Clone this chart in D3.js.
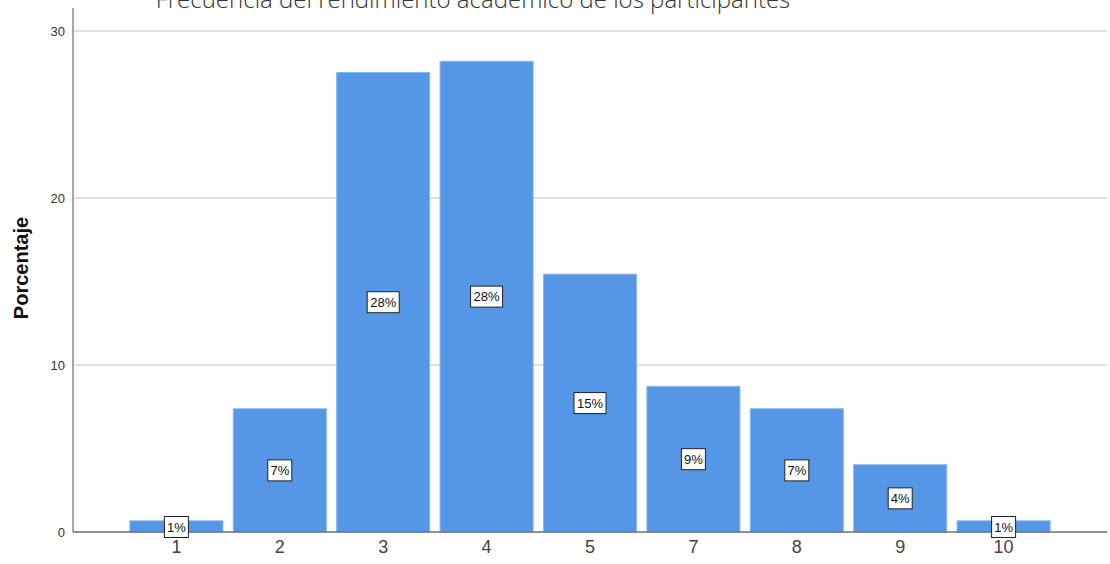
<!DOCTYPE html>
<html>
<head>
<meta charset="utf-8">
<script src="https://cdn.jsdelivr.net/npm/d3@7"></script>
<style>
  body { margin: 0; background: #fff; }
</style>
</head>
<body>
<svg></svg>
<script>
var categories = ["1", "2", "3", "4", "5", "7", "8", "9", "10"];
var percents = [0.67, 7.38, 27.52, 28.19, 15.44, 8.72, 7.38, 4.03, 0.67];
var labels = ["1%", "7%", "28%", "28%", "15%", "9%", "7%", "4%", "1%"];
var yTicks = [0, 10, 20, 30];

var svgWidth = 1110, svgHeight = 564;
var svg = d3.select("svg")
    .attr("width", svgWidth)
    .attr("height", svgHeight);

var plotLeft = 73, plotRight = 1107, plotTop = 31, plotBottom = 532;

var xScale = d3.scaleBand().domain(categories).range([plotLeft, plotRight])
    .paddingInner(0.1).paddingOuter(0.55);
var yScale = d3.scaleLinear().domain([0, 30]).range([plotBottom, plotTop]);

// gridlines
svg.append("g")
    .selectAll("line")
    .data(yTicks.filter(function (d) { return d > 0; }))
    .enter()
    .append("line")
    .attr("x1", plotLeft).attr("x2", plotRight)
    .attr("y1", function (d) { return yScale(d); })
    .attr("y2", function (d) { return yScale(d); })
    .style("stroke", "#d6d6d6")
    .style("stroke-width", 1.5);

// bars
svg.append("g")
    .selectAll("rect")
    .data(percents)
    .enter()
    .append("rect")
    .attr("x", function (d, i) { return xScale(categories[i]); })
    .attr("y", function (d) { return yScale(d); })
    .attr("width", xScale.bandwidth())
    .attr("height", function (d) { return plotBottom - yScale(d); })
    .style("fill", "#5596e6")
    .style("stroke", "#8db8ee")
    .style("stroke-width", 1);

// axes
var yAxis = svg.append("g")
    .attr("transform", "translate(" + plotLeft + ",0)")
    .call(d3.axisLeft(yScale).tickValues(yTicks).tickSize(0).tickPadding(8));
yAxis.select(".domain").remove();
yAxis.selectAll("text")
    .style("font-family", "Liberation Sans, Arial")
    .style("font-size", "13px")
    .style("fill", "#333");

svg.append("line")
    .attr("x1", plotLeft).attr("x2", plotLeft)
    .attr("y1", 8).attr("y2", plotBottom)
    .style("stroke", "#8a8a8a")
    .style("stroke-width", 1.5);

var xAxis = svg.append("g")
    .attr("transform", "translate(0," + plotBottom + ")")
    .call(d3.axisBottom(xScale).tickSize(0).tickPadding(8));
xAxis.select(".domain").remove();
xAxis.selectAll("text")
    .style("font-family", "Liberation Sans, Arial")
    .style("font-size", "18px")
    .style("fill", "#444");

svg.append("line")
    .attr("x1", plotLeft).attr("x2", plotRight)
    .attr("y1", plotBottom).attr("y2", plotBottom)
    .style("stroke", "#6e6e6e")
    .style("stroke-width", 1.5);

// data labels
var lab = svg.append("g")
    .selectAll("g")
    .data(percents)
    .enter()
    .append("g")
    .attr("transform", function (d, i) {
        var cx = xScale(categories[i]) + xScale.bandwidth() / 2;
        var cy = (yScale(d) + plotBottom) / 2;
        if (d < 2) cy = plotBottom - 5;
        return "translate(" + cx + "," + cy + ")";
    });
lab.append("rect")
    .attr("x", function (d, i) { return labels[i].length > 2 ? -16 : -12; })
    .attr("y", -10.5)
    .attr("width", function (d, i) { return labels[i].length > 2 ? 32 : 24; })
    .attr("height", 21)
    .style("fill", "#fff")
    .style("stroke", "#222")
    .style("stroke-width", 1);
lab.append("text")
    .attr("text-anchor", "middle")
    .attr("dy", "0.35em")
    .style("font-family", "Liberation Sans, Arial")
    .style("font-size", "13px")
    .style("fill", "#111")
    .text(function (d, i) { return labels[i]; });

// Y label
svg.append("text")
    .attr("text-anchor", "middle")
    .attr("transform", "translate(28,268)rotate(-90)")
    .style("font-family", "Liberation Sans, Arial")
    .style("font-weight", "bold")
    .style("font-size", "20px")
    .style("fill", "#111")
    .text("Porcentaje");

// Title (cut at top)
svg.append("text")
    .attr("x", 473)
    .attr("y", 8)
    .attr("text-anchor", "middle")
    .style("font-family", "Open Sans")
    .style("font-weight", 300)
    .style("font-size", "24px")
    .style("fill", "#333")
    .text("Frecuencia del rendimiento académico de los participantes");
</script>
</body>
</html>
